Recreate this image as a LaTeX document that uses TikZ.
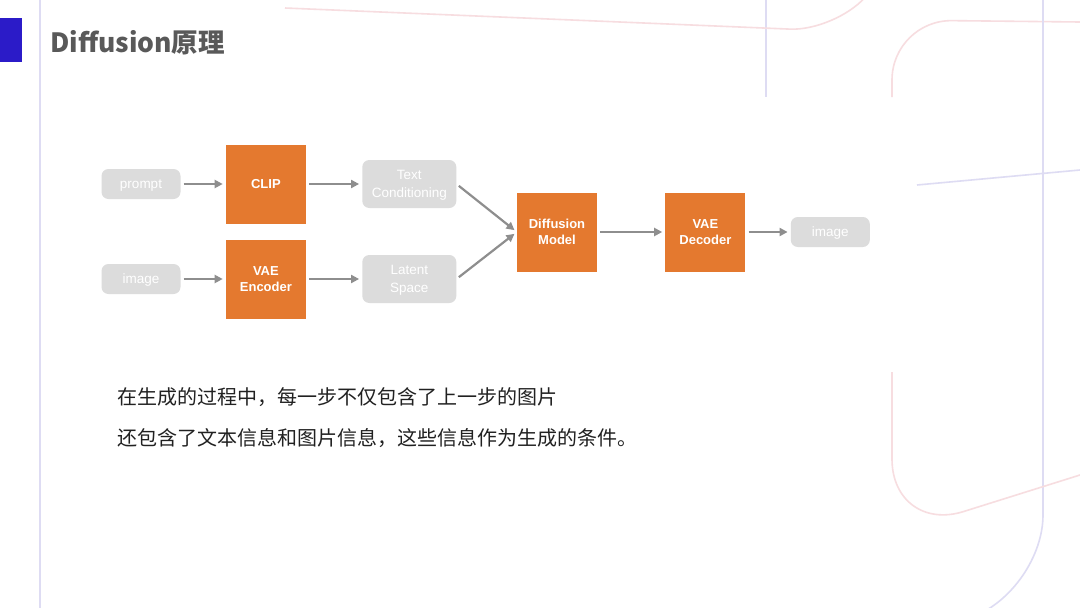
\documentclass[tikz,border=0pt]{standalone}
\usepackage{fontspec}
\setmainfont{Liberation Sans}
\newfontfamily\cjk{Noto Sans CJK SC}
\usepackage{tikz}
\usetikzlibrary{arrows.meta,positioning}
\definecolor{orng}{HTML}{E4792F}
\definecolor{pale}{HTML}{DCDCDC}
\definecolor{arrowgray}{HTML}{8E8E8E}
\definecolor{titlegray}{HTML}{595959}
\definecolor{accent}{HTML}{2B1BC8}
\definecolor{lav}{HTML}{DEDCF3}
\definecolor{rose}{HTML}{F7DDE0}
\tikzset{
  pill/.style={rectangle, rounded corners=7pt, fill=pale, text=white, align=center,
               font=\fontsize{13.5}{17.5}\selectfont, minimum width=79pt, minimum height=30pt,
               inner sep=2pt, text depth=0pt},
  blok/.style={rectangle, fill=orng, text=white, align=center,
               font=\fontsize{13}{16}\selectfont\bfseries, minimum width=80pt, minimum height=79pt},
  arr/.style={-{Triangle[length=8pt,width=8pt]}, line width=2.2pt, draw=arrowgray,
              shorten >=3pt, shorten <=3pt},
  deco/.style={line width=1.6pt},
}

\begin{document}
\begin{tikzpicture}[x=1pt, y=-1pt]
    \useasboundingbox (0,0) rectangle (1080,608);
    \fill[white] (0,0) rectangle (1080,608);
    % slide background lines
    \begin{scope}
      \clip (0,0) rectangle (1080,608);
      \draw[deco, lav] (40,0) -- (40,608);
      \draw[deco, lav] (766,0) -- (766,97);
      \draw[deco, rose, rounded corners=45pt] (285,8) -- (835,31) -- (885,-25);
      \draw[deco, rose, rounded corners=60pt] (892,97) -- (892,20) -- (1080,22);
      \draw[deco, lav] (917,185) -- (1080,170);
      \draw[deco, lav, rounded corners=75pt] (1043,0) -- (1043,590) -- (925,635);
      \draw[deco, rose, rounded corners=75pt] (892,372) -- (892,534) -- (1080,475);
    \end{scope}
    \fill[accent] (0,18) rectangle (22,62);
    \node[anchor=west, text=titlegray, font=\cjk\bfseries\fontsize{26.5}{30}\selectfont, inner sep=0pt]
      (title) at (50,43) {Diffusion原理};

    \node[pill] (prompt) at (141,184) {prompt};
    \node[blok, right=45pt of prompt] (clip) {CLIP};
    \node[pill, minimum width=94pt, minimum height=48pt, right=56pt of clip] (textc) {Text\\Conditioning};
    \node[pill] (img) at (141,279) {image};
    \node[blok, right=45pt of img] (vaeenc) {VAE\\Encoder};
    \node[pill, minimum width=94pt, minimum height=48pt, right=56pt of vaeenc] (latent) {Latent\\Space};
    \node[blok] (diff) at (557,232) {Diffusion\\Model};
    \node[blok, right=68pt of diff] (vaedec) {VAE\\Decoder};
    \node[pill, right=45pt of vaedec] (imgout) {image};

    \draw[arr] (prompt) -- (clip); \draw[arr] (clip) -- (textc);
    \draw[arr] (img) -- (vaeenc); \draw[arr] (vaeenc) -- (latent);
    \draw[arr] (textc.east) -- (diff.west); \draw[arr] (latent.east) -- (diff.west);
    \draw[arr] (diff) -- (vaedec); \draw[arr] (vaedec) -- (imgout);

    \node[anchor=base west, inner sep=0pt, text=black!87, font=\cjk\fontsize{20}{24}\selectfont]
      (desc1) at (117,404) {在生成的过程中，每一步不仅包含了上一步的图片};
    \node[anchor=base west, inner sep=0pt, text=black!87, font=\cjk\fontsize{20}{24}\selectfont]
      (desc2) at (117,445) {还包含了文本信息和图片信息，这些信息作为生成的条件。};
  \end{tikzpicture}
\end{document}
